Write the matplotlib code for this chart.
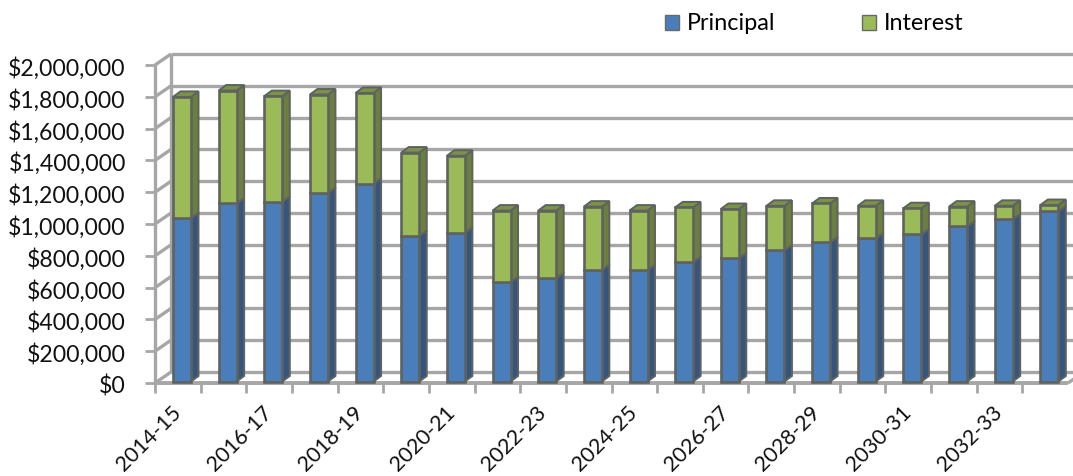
import numpy as np
from matplotlib import pyplot as plt
from matplotlib.patches import Patch, Polygon
from matplotlib.transforms import ScaledTranslation

plt.rcParams['font.family'] = ['Lato', 'DejaVu Sans']

years = ['2014-15', '2015-16', '2016-17', '2017-18', '2018-19', '2019-20', '2020-21',
         '2021-22', '2022-23', '2023-24', '2024-25', '2025-26', '2026-27', '2027-28',
         '2028-29', '2029-30', '2030-31', '2031-32', '2032-33', '2033-34']
principal = [1028000, 1120000, 1130000, 1185000, 1245000, 915000, 935000,
             625000, 650000, 700000, 700000, 750000, 775000, 825000,
             875000, 900000, 925000, 975000, 1020000, 1070000]
interest = [762000, 710000, 665000, 620000, 570000, 525000, 485000,
            450000, 425000, 400000, 375000, 345000, 310000, 280000,
            245000, 205000, 165000, 125000, 85000, 40000]
yticks = [0, 200000, 400000, 600000, 800000, 1000000, 1200000, 1400000, 1600000, 1800000, 2000000]

W, H = 1073, 476
fig = plt.figure(figsize=(W / 100, H / 100), dpi=100)
# plot box taken from the front plane of the 3d chart
ax = fig.add_axes([155 / W, 1 - 383 / H, 913 / W, 318 / H])
ax.set_xlim(0, len(years))
ax.set_ylim(0, 2000000)
for s in ax.spines.values():
    s.set_visible(False)

px = len(years) / 913.0    # one pixel in x units
py = 2000000 / 318.0       # one pixel in y units
wall_dx, wall_dy = 16 * px, 11 * py
bar_dx, bar_dy = 7.5 * px, 5.5 * py
grey = '#a6a6a6'
edge = '#5f635f'


def line(xs, ys, lw=2.4):
    ax.plot(xs, ys, color=grey, lw=lw, clip_on=False, zorder=1, solid_capstyle='butt')


# back wall and side wall
for v in yticks:
    line([0, wall_dx], [v, v + wall_dy])
    line([wall_dx, len(years) + wall_dx], [v + wall_dy, v + wall_dy])
line([0, 0], [0, 2000000])
line([wall_dx, wall_dx], [wall_dy, 2000000 + wall_dy])
line([0, len(years)], [0, 0], lw=2.8)
line([len(years), len(years) + wall_dx], [0, wall_dy])


def bar3d(x, bottom, height, front, side, top):
    ax.bar(x, height, 18 * px, bottom=bottom, align='edge', color=front, edgecolor=edge,
           linewidth=1.9, zorder=4, clip_on=False)
    x2 = x + 18 * px
    y2 = bottom + height
    ax.add_patch(Polygon([(x2, bottom), (x2 + bar_dx, bottom + bar_dy), (x2 + bar_dx, y2 + bar_dy), (x2, y2)],
                         facecolor=side, edgecolor=edge, lw=1.4, zorder=3, clip_on=False))
    ax.add_patch(Polygon([(x, y2), (x + bar_dx, y2 + bar_dy), (x2 + bar_dx, y2 + bar_dy), (x2, y2)],
                         facecolor=top, edgecolor=edge, lw=1.4, zorder=3, clip_on=False))


lift = 1.5 * py
for i in range(len(years)):
    x = i + 18 * px
    bar3d(x, lift, principal[i], '#4a7ebb', '#35557f', '#3f6597')
    bar3d(x, lift + principal[i], interest[i], '#9bbb59', '#6b7f3e', '#7c9247')

ax.set_yticks(yticks)
ax.set_yticklabels(['${:,}'.format(v) for v in yticks], fontsize=16.6, color='#111111')
ax.tick_params(axis='y', length=7, width=2, color=grey, pad=14)
shift = ScaledTranslation(0, -1.5 / 100, fig.dpi_scale_trans)
for t in ax.get_yticklabels():
    t.set_transform(t.get_transform() + shift)

# ticks sit between categories, labels in the middle of every second one
ax.set_xticks(np.arange(len(years)))
ax.set_xticklabels([])
ax.tick_params(axis='x', length=7, width=2, color=grey)
ax.set_xticks(np.arange(0, len(years), 2) + 0.5, minor=True)
ax.set_xticklabels(years[::2], minor=True, fontsize=15.5, rotation=45, ha='right',
                   rotation_mode='anchor', color='#111111')
ax.tick_params(axis='x', which='minor', length=0, pad=14)
left = ScaledTranslation(-7 / 100, 0, fig.dpi_scale_trans)
for t in ax.get_xticklabels(minor=True):
    t.set_transform(t.get_transform() + left)

handles = [Patch(facecolor='#4a7ebb', edgecolor='#666a66', label='Principal'),
           Patch(facecolor='#9bbb59', edgecolor='#666a66', label='Interest')]
fig.legend(handles=handles, ncol=2, frameon=False, fontsize=16.8, loc='center',
           bbox_to_anchor=(814 / W, 1 - 24 / H), handlelength=0.6, handleheight=0.6,
           handletextpad=0.35, columnspacing=3.7)

fig.savefig('out.png', dpi=100)
plt.close()
